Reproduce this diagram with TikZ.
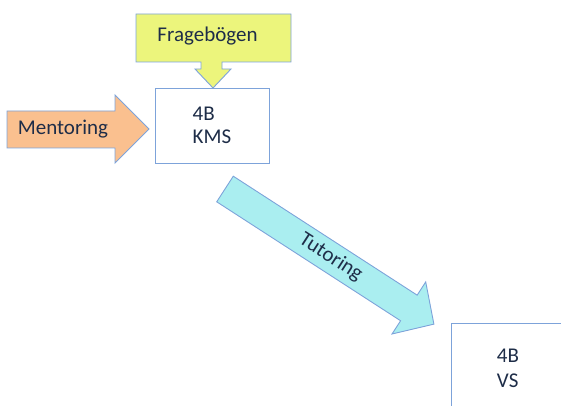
\documentclass[tikz,border=0pt]{standalone}
\usepackage{fontspec}
\setmainfont{Carlito}
\definecolor{bordc}{RGB}{125,163,218}
\definecolor{txtc}{RGB}{30,45,72}
\definecolor{yellowc}{RGB}{236,245,124}
\definecolor{orangec}{RGB}{250,192,143}
\definecolor{cyanc}{RGB}{170,238,240}
\tikzset{
  shapeline/.style={draw=bordc, line width=0.9pt, line join=miter},
  lbl/.style={text=txtc, font=\fontsize{21}{23.5}\selectfont, inner sep=0pt},
  boxnode/.style={shapeline, fill=white, text=txtc, font=\fontsize{21}{23}\selectfont,
    align=left, inner sep=0pt, minimum width=114pt},
}
\begin{document}
\begin{tikzpicture}[x=1pt,y=-1pt]
\useasboundingbox (0,0) rectangle (561,406);
\clip (0,0) rectangle (561,406);
% Fragebogen callout
\draw[shapeline, fill=yellowc] (136,14) -- (291,14) -- (291,62) -- (222,62) -- (222,69) -- (231,69)
  -- (213,88) -- (195,69) -- (201,69) -- (201,62) -- (136,62) -- cycle;
\node[lbl, anchor=base] (frage) at (207.5,41.7) {Fragebögen};
% KMS box
\node[boxnode, minimum height=75pt] (kms) at (212,125.5) {4B\\KMS};
% Mentoring arrow
\draw[shapeline, fill=orangec] (7,111) -- (115,111) -- (115,95) -- (149,129) -- (115,163) -- (115,148) -- (7,148) -- cycle;
\node[lbl, anchor=base] (ment) at (63,135) {Mentoring};
% VS box
\node[boxnode, minimum height=91pt, font=\fontsize{21}{24.5}\selectfont] (vs) at (508,368.5) {4B\\VS};
% Tutoring arrow
\begin{scope}[shift={(225,189)}, rotate=-32.9]
  \draw[shapeline, fill=cyanc] (0,-15.25) -- (219,-15.25) -- (219,-31) -- (248.8,0) -- (219,31) -- (219,15.25) -- (0,15.25) -- cycle;
  \node[lbl, rotate=-32.9] (tut) at (126,0) {Tutoring};
\end{scope}
\end{tikzpicture}
\end{document}
